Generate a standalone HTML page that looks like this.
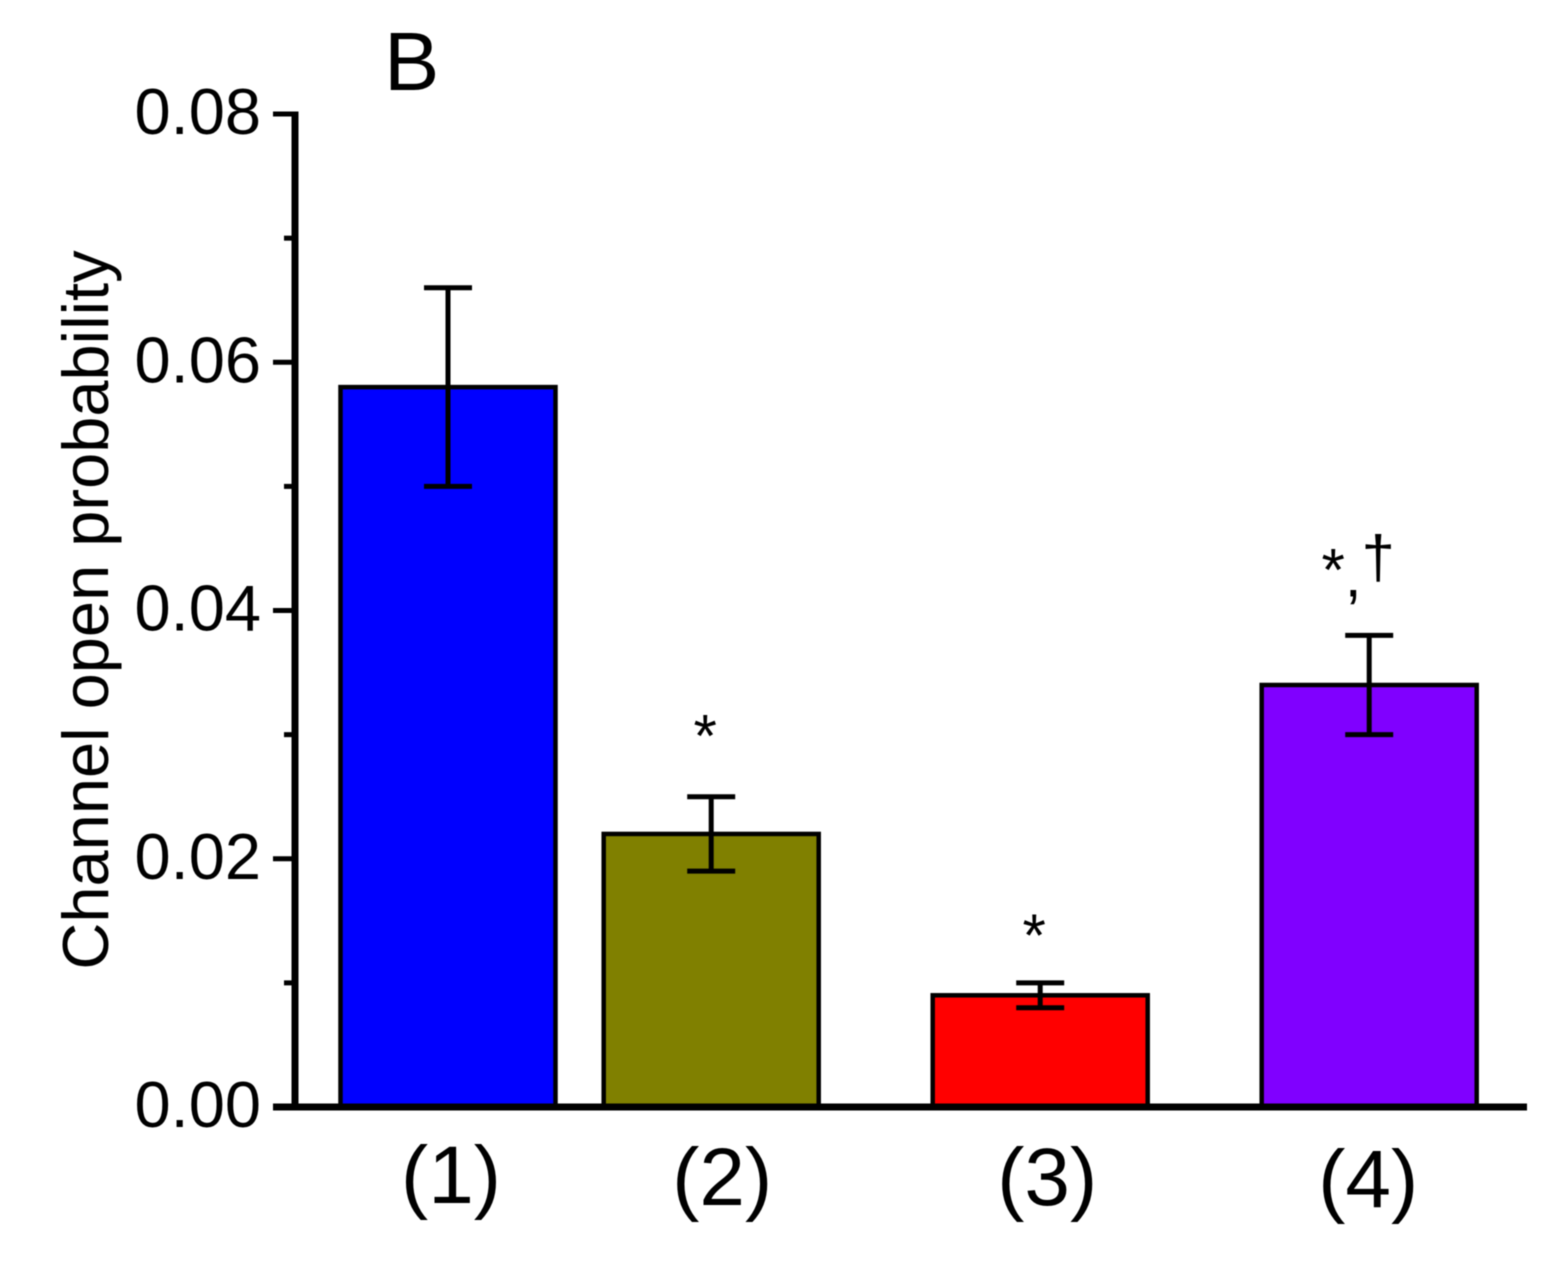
<!DOCTYPE html>
<html lang="en">
<head>
<meta charset="utf-8">
<title>Channel open probability</title>
<style>
html,body{margin:0;padding:0;background:#fff;width:1560px;height:1269px;overflow:hidden}
svg{display:block;filter:blur(0.6px)}
text{font-family:"Liberation Sans",Arial,sans-serif;fill:#000}
</style>
</head>
<body>
<svg id="chart" xmlns="http://www.w3.org/2000/svg" width="1560" height="1269" viewBox="0 0 1560 1269">
<text x="384" y="90" font-size="83">B</text>
<text transform="translate(108,610) rotate(-90)" text-anchor="middle" font-size="65">Channel open probability</text>
</svg>
<script>
const categories = ['(1)', '(2)', '(3)', '(4)'];
const categoryPositions = [1, 1.8, 2.8, 3.8];
const values = [0.058, 0.022, 0.009, 0.034];
const errorsUpper = [0.066, 0.025, 0.010, 0.038];
const errorsLower = [0.050, 0.019, 0.008, 0.030];
const colors = ['#0000ff', '#808000', '#ff0000', '#8000ff'];
const significance = ['', '*', '*', '*,\u2020'];
const yTicks = [0, 0.02, 0.04, 0.06, 0.08];
const yTickLabels = ['0.00', '0.02', '0.04', '0.06', '0.08'];
const yMinorTicks = [0.01, 0.03, 0.05, 0.07];

const NS = 'http://www.w3.org/2000/svg';
const svg = document.getElementById('chart');
const yScale = v => 1107 - v * 12412;
const xScale = p => 448 + (p - 1) * 329;
const BAR_WIDTH = 215;
const CAP_HALF = 24;

function mk(tag, attrs, text) {
  const el = document.createElementNS(NS, tag);
  for (const k in attrs) el.setAttribute(k, attrs[k]);
  if (text !== undefined) el.textContent = text;
  svg.appendChild(el);
  return el;
}

/* hand placement of category labels and significance marks (layout only) */
function labelLayout(i) {
  if (i === 0) return { dx: 3, y: 1203 };
  if (i === 1) return { dx: 11, y: 1205 };
  if (i === 2) return { dx: 7, y: 1205 };
  return { dx: -1, y: 1207 };
}
function markLayout(i) {
  if (i === 1) return { dx: -6, dy: -40 };
  if (i === 2) return { dx: -6, dy: -27 };
  return { dx: -11, dy: -45 };
}

categories.forEach((c, i) => {
  const cx = xScale(categoryPositions[i]);
  const top = yScale(values[i]);
  const bar = mk('rect', {
    x: cx - BAR_WIDTH / 2, y: top, width: BAR_WIDTH, height: yScale(0) - top,
    fill: colors[i], stroke: '#000', 'stroke-width': 4.5
  });
  
  

  const yUp = yScale(errorsUpper[i]);
  const yLo = yScale(errorsLower[i]);
  const stem = mk('line', { x1: cx, x2: cx, y1: yUp, y2: yLo, stroke: '#000', 'stroke-width': 5 });
  
  
  const capTop = mk('line', { x1: cx - CAP_HALF, x2: cx + CAP_HALF, y1: yUp, y2: yUp, stroke: '#000', 'stroke-width': 5 });
  
  
  const capLow = mk('line', { x1: cx - CAP_HALF, x2: cx + CAP_HALF, y1: yLo, y2: yLo, stroke: '#000', 'stroke-width': 5 });
  
  

  const l = labelLayout(i);
  const label = mk('text', { x: cx + l.dx, y: l.y, 'text-anchor': 'middle', 'font-size': 82 }, c);
  
  

  if (significance[i]) {
    const m = markLayout(i);
    const mark = mk('text', { x: cx + m.dx, y: yUp + m.dy, 'text-anchor': 'middle', 'font-size': 60 });
    
    
    let prev = 0;
    for (const ch of significance[i]) {
      const off = ch === ',' ? 6 : (ch === '\u2020' ? -13 : 0);
      const ts = document.createElementNS(NS, 'tspan');
      ts.setAttribute('dy', off - prev);
      ts.textContent = ch;
      mark.appendChild(ts);
      prev = off;
    }
  }
});

yTicks.forEach((t, i) => {
  const y = yScale(t);
  const tick = mk('line', { x1: 273, x2: 296, y1: y, y2: y, stroke: '#000', 'stroke-width': 5 });
  
  
  const lab = mk('text', { x: 261, y: y + 20, 'text-anchor': 'end', 'font-size': 65 }, yTickLabels[i]);
  
  
});
yMinorTicks.forEach(t => {
  const y = yScale(t);
  const tick = mk('line', { x1: 284, x2: 296, y1: y, y2: y, stroke: '#000', 'stroke-width': 5 });
  
  
});

const yAxis = mk('line', { x1: 295, x2: 295, y1: yScale(0.08) - 2.5, y2: yScale(0), stroke: '#000', 'stroke-width': 7 });


const xAxis = mk('line', { x1: 273, x2: 1527, y1: yScale(0), y2: yScale(0), stroke: '#000', 'stroke-width': 7 });


</script>
</body>
</html>
